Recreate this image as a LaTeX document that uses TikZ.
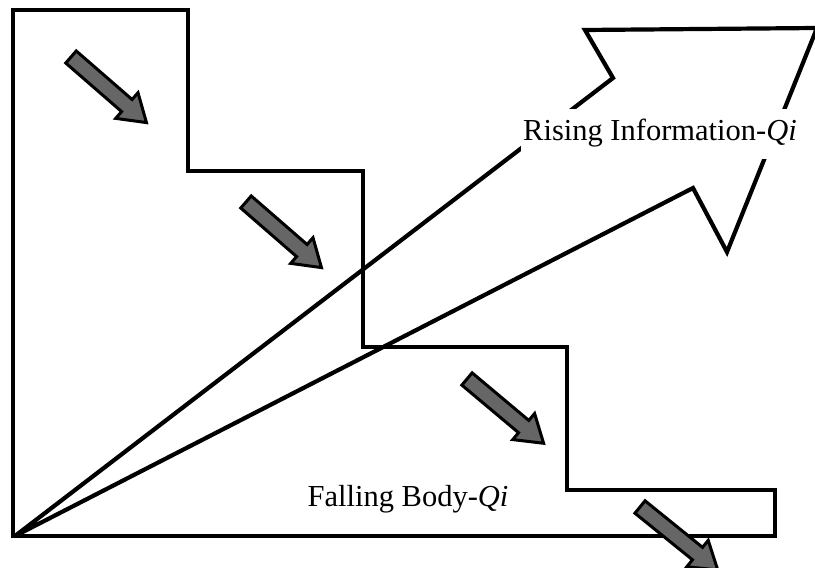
\documentclass[tikz,border=0pt]{standalone}
\usepackage{fontspec}
\setmainfont{Liberation Serif}
\begin{document}
\begin{tikzpicture}[x=1pt,y=1pt,
  outline/.style={line width=4.2pt, line join=miter, draw=black},
  textlabel/.style={font=\fontsize{30.5}{33}\selectfont, fill=white, anchor=base, inner xsep=2pt, inner ysep=11pt},
  grayarrow/.pic={\filldraw[fill=black!60, draw=black, line width=3pt, line join=miter]
     (0,-8) -- (74,-8) -- (74,-17) -- (100,0) -- (74,17) -- (74,8) -- (0,8) -- cycle;}
]
\useasboundingbox (0,0) rectangle (815,568);
% staircase (falling body)
\draw[outline] (13,558) -- (188,558) -- (188,397) -- (363,397) -- (363,221) -- (567,221)
  -- (567,78) -- (775,78) -- (775,32) -- (13,32) -- cycle;
% big arrow (rising information)
\coordinate (O) at (15,32);
\draw[outline] (O) -- (613,490) -- (585,538) -- (817,540) -- (727,316) -- (693,380) -- cycle;
% texts
\node[textlabel] (rise) at (660,427) {Rising Information-\textit{Qi}};
\node[textlabel, fill=none] (fall) at (408,61) {Falling Body-\textit{Qi}};
% small gray arrows
\pic[rotate=-41] at (71,511) {grayarrow};
\pic[rotate=-41] at (246,366) {grayarrow};
\pic[rotate=-40] at (467,189) {grayarrow};
\pic[rotate=-39] at (640,61) {grayarrow};
\end{tikzpicture}
\end{document}
